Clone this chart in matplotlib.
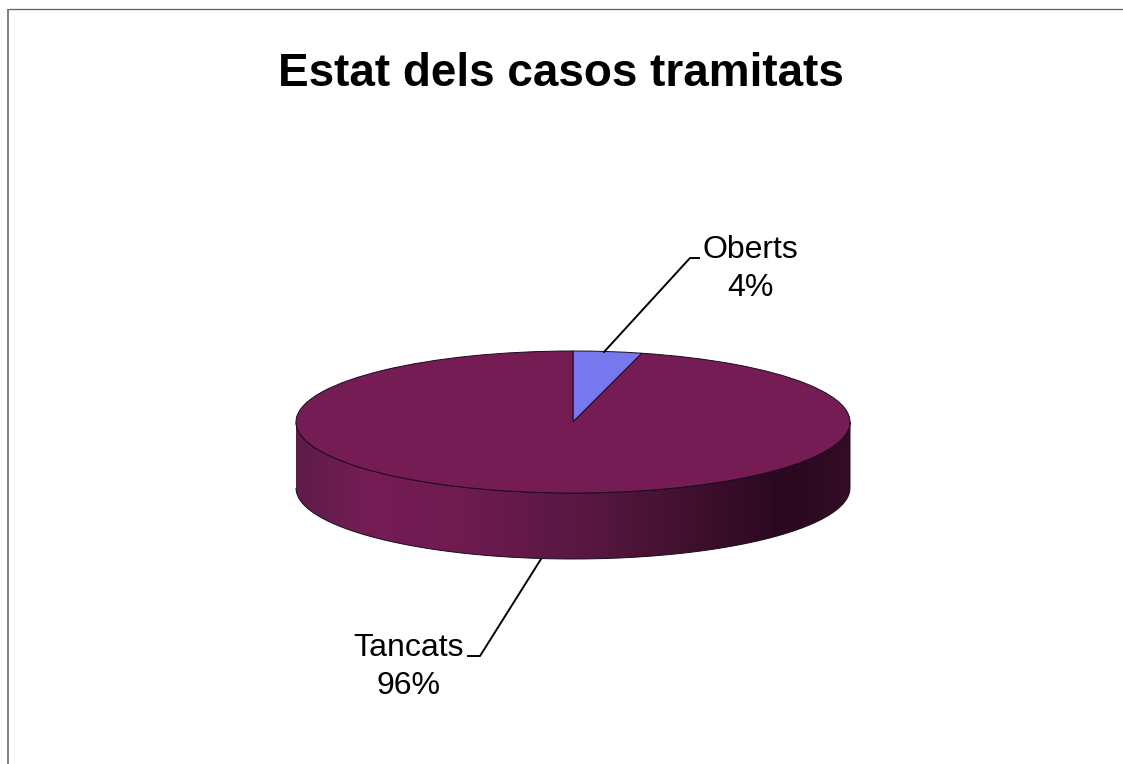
import matplotlib
matplotlib.use("Agg")
import matplotlib.pyplot as plt
import numpy as np
from matplotlib.colors import LinearSegmentedColormap
from matplotlib.patches import PathPatch
from matplotlib.path import Path

plt.rcParams["font.family"] = ["Liberation Sans", "DejaVu Sans"]

title = "Estat dels casos tramitats"
categories = ["Oberts", "Tancats"]
shares = [4, 96]
slice_colors = ["#7878EE", "#751C55"]

W, H = 1123, 764
fig = plt.figure(figsize=(W / 100, H / 100), dpi=100)

# overlay in pixel units for the frame, title and labels
ov = fig.add_axes([0, 0, 1, 1], zorder=3)
ov.set_xlim(0, W)
ov.set_ylim(H, 0)
ov.axis("off")
ov.patch.set_alpha(0)

# pie disc, squashed into an ellipse
left, right, top, bottom = 296, 850, 351, 493
pie_ax = fig.add_axes([left / W, 1 - bottom / H, (right - left) / W, (bottom - top) / H], zorder=2)
wedges, _ = pie_ax.pie(shares, colors=slice_colors, startangle=90, counterclock=False,
                       radius=1, wedgeprops={"edgecolor": "#1a0a20", "linewidth": 0.7})
pie_ax.set_aspect("auto")
for w in wedges:
    w.set_clip_on(False)

# side wall below the disc
depth = 66 / 71
t = np.linspace(np.pi, 2 * np.pi, 200)
xs = np.concatenate([np.cos(t), np.cos(t[::-1])])
ys = np.concatenate([np.sin(t) - depth, np.sin(t[::-1])])
wall = Path(np.column_stack([xs, ys]))
wall_cmap = LinearSegmentedColormap.from_list("wall", [
    (0.00, "#5E1C48"), (0.13, "#751C55"), (0.30, "#6E1B50"), (0.50, "#5A1843"),
    (0.70, "#42112F"), (0.88, "#2A0820"), (1.00, "#330C25"),
])
img = pie_ax.imshow(np.linspace(0, 1, 256)[None, :], cmap=wall_cmap, aspect="auto",
                    extent=(-1, 1, -1 - depth, 0), zorder=0)
patch = PathPatch(wall, facecolor="none", edgecolor="#1a0a20", linewidth=0.7, zorder=0.5, clip_on=False)
pie_ax.add_patch(patch)
img.set_clip_box(fig.bbox)
img.set_clip_path(patch)
pie_ax.set_xlim(-1, 1)
pie_ax.set_ylim(-1, 1)
pie_ax.axis("off")

# frame, only left and top are visible
ov.plot([8, 8], [9, H], color="#808080", lw=1.4, solid_capstyle="butt")
ov.plot([8, W], [9, 9], color="#606060", lw=0.9, solid_capstyle="butt")

ov.text(561, 74, title, ha="center", va="center", fontsize=33, fontweight="bold", color="black")

# leader lines and labels
ov.plot([604, 690, 699], [352, 258, 258], color="black", lw=1.4)
ov.plot([541, 480, 468], [559, 656, 656], color="black", lw=1.4)
ov.text(750, 269, f"{categories[0]}\n{shares[0]}%", ha="center", va="center",
        fontsize=23, linespacing=1.37, color="black")
ov.text(408, 667, f"{categories[1]}\n{shares[1]}%", ha="center", va="center",
        fontsize=23, linespacing=1.37, color="black")

fig.savefig("out.png", dpi=100)
